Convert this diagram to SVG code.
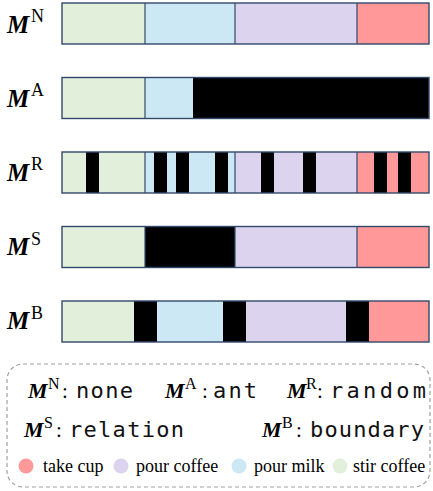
<svg xmlns="http://www.w3.org/2000/svg" width="433" height="491" viewBox="0 0 433 491">
<style>
.g{fill:#E2EFDA}.b{fill:#CDE8F5}.p{fill:#DCD3EF}.r{fill:#FF9999}.k{fill:#000}
.out{fill:none;stroke:#33496B;stroke-width:1.4}
.div{stroke:#33496B;stroke-width:1.2}
.M{font-family:"Liberation Serif","Times New Roman",serif;font-weight:bold;font-style:italic;font-size:25px;fill:#000}
.sup{font-family:"Liberation Serif","Times New Roman",serif;font-size:18px;fill:#000}
.LM{font-family:"Liberation Serif","Times New Roman",serif;font-weight:bold;font-style:italic;font-size:22px;fill:#000}
.Lsup{font-family:"Liberation Serif","Times New Roman",serif;font-size:16px;fill:#000}
.col{font-family:"Liberation Serif","Times New Roman",serif;font-size:21px;fill:#000}
.mono{font-family:"DejaVu Sans Mono","Liberation Mono",monospace;font-size:22px;fill:#111}
.ser{font-family:"Liberation Serif","Times New Roman",serif;font-size:18px;fill:#000}
</style>

<g id="row-N">
<rect class="g" x="62" y="3" width="83" height="41"/>
<rect class="b" x="145" y="3" width="90" height="41"/>
<rect class="p" x="235" y="3" width="122" height="41"/>
<rect class="r" x="357" y="3" width="72" height="41"/>
<line class="div" x1="145" y1="3" x2="145" y2="44"/>
<line class="div" x1="235" y1="3" x2="235" y2="44"/>
<line class="div" x1="357" y1="3" x2="357" y2="44"/>
<rect class="out" x="62" y="3" width="367" height="41"/>
<text class="M" x="7" y="33">M</text><text class="sup" x="31" y="22">N</text>
</g>

<g id="row-A">
<rect class="g" x="62" y="77.5" width="83" height="41"/>
<rect class="b" x="145" y="77.5" width="48" height="41"/>
<rect class="k" x="193" y="77.5" width="236" height="41"/>
<line class="div" x1="145" y1="77.5" x2="145" y2="118.5"/>
<rect class="out" x="62" y="77.5" width="367" height="41"/>
<text class="M" x="7" y="107">M</text><text class="sup" x="31" y="96">A</text>
</g>

<g id="row-R">
<rect class="g" x="62" y="152" width="83" height="41"/>
<rect class="b" x="145" y="152" width="90" height="41"/>
<rect class="p" x="235" y="152" width="122" height="41"/>
<rect class="r" x="357" y="152" width="72" height="41"/>
<rect class="k" x="86" y="152" width="13" height="41"/>
<rect class="k" x="154" y="152" width="13" height="41"/>
<rect class="k" x="176" y="152" width="13" height="41"/>
<rect class="k" x="215" y="152" width="13" height="41"/>
<rect class="k" x="261" y="152" width="13" height="41"/>
<rect class="k" x="303" y="152" width="13" height="41"/>
<rect class="k" x="374" y="152" width="13" height="41"/>
<rect class="k" x="398" y="152" width="13" height="41"/>
<line class="div" x1="145" y1="152" x2="145" y2="193"/>
<line class="div" x1="235" y1="152" x2="235" y2="193"/>
<line class="div" x1="357" y1="152" x2="357" y2="193"/>
<rect class="out" x="62" y="152" width="367" height="41"/>
<text class="M" x="7" y="180.5">M</text><text class="sup" x="31" y="170">R</text>
</g>

<g id="row-S">
<rect class="g" x="62" y="226.5" width="83" height="41"/>
<rect class="k" x="145" y="226.5" width="90" height="41"/>
<rect class="p" x="235" y="226.5" width="122" height="41"/>
<rect class="r" x="357" y="226.5" width="72" height="41"/>
<line class="div" x1="145" y1="226.5" x2="145" y2="267.5"/>
<line class="div" x1="235" y1="226.5" x2="235" y2="267.5"/>
<line class="div" x1="357" y1="226.5" x2="357" y2="267.5"/>
<rect class="out" x="62" y="226.5" width="367" height="41"/>
<text class="M" x="7" y="255">M</text><text class="sup" x="31" y="244.5">S</text>
</g>

<g id="row-B">
<rect class="g" x="62" y="301" width="72" height="41"/>
<rect class="k" x="134" y="301" width="23" height="41"/>
<rect class="b" x="157" y="301" width="66" height="41"/>
<rect class="k" x="223" y="301" width="23" height="41"/>
<rect class="p" x="246" y="301" width="100" height="41"/>
<rect class="k" x="346" y="301" width="23" height="41"/>
<rect class="r" x="369" y="301" width="60" height="41"/>
<rect class="out" x="62" y="301" width="367" height="41"/>
<text class="M" x="7" y="329">M</text><text class="sup" x="31" y="318.5">B</text>
</g>

<g id="legend">
<rect x="7" y="364" width="423" height="123" rx="16" ry="16" fill="none" stroke="#A0A0A0" stroke-width="1.2" stroke-dasharray="4 3"/>
<text class="LM" x="28" y="398">M</text><text class="Lsup" x="48" y="389">N</text><text class="col" x="62" y="398">:</text>
<text class="mono" x="76" y="398" textLength="57">none</text>
<text class="LM" x="165" y="398">M</text><text class="Lsup" x="185" y="389">A</text><text class="col" x="202" y="398">:</text>
<text class="mono" x="213" y="398" textLength="44">ant</text>
<text class="LM" x="287" y="398">M</text><text class="Lsup" x="306" y="389">R</text><text class="col" x="317" y="398">:</text>
<text class="mono" x="330" y="398" textLength="96">random</text>
<text class="LM" x="24" y="437">M</text><text class="Lsup" x="44" y="428">S</text><text class="col" x="56" y="437">:</text>
<text class="mono" x="69" y="437" textLength="115">relation</text>
<text class="LM" x="262" y="437">M</text><text class="Lsup" x="282" y="428">B</text><text class="col" x="296" y="437">:</text>
<text class="mono" x="310" y="437" textLength="114">boundary</text>
<circle cx="26" cy="466" r="7.5" fill="#FF9999"/>
<text class="ser" x="43" y="472">take cup</text>
<circle cx="121" cy="466" r="7.5" fill="#DCD3EF"/>
<text class="ser" x="136" y="472">pour coffee</text>
<circle cx="239" cy="466" r="7.5" fill="#CDE8F5"/>
<text class="ser" x="254" y="472">pour milk</text>
<circle cx="340" cy="466" r="7.5" fill="#E2EFDA"/>
<text class="ser" x="353" y="472">stir coffee</text>
</g>
</svg>
